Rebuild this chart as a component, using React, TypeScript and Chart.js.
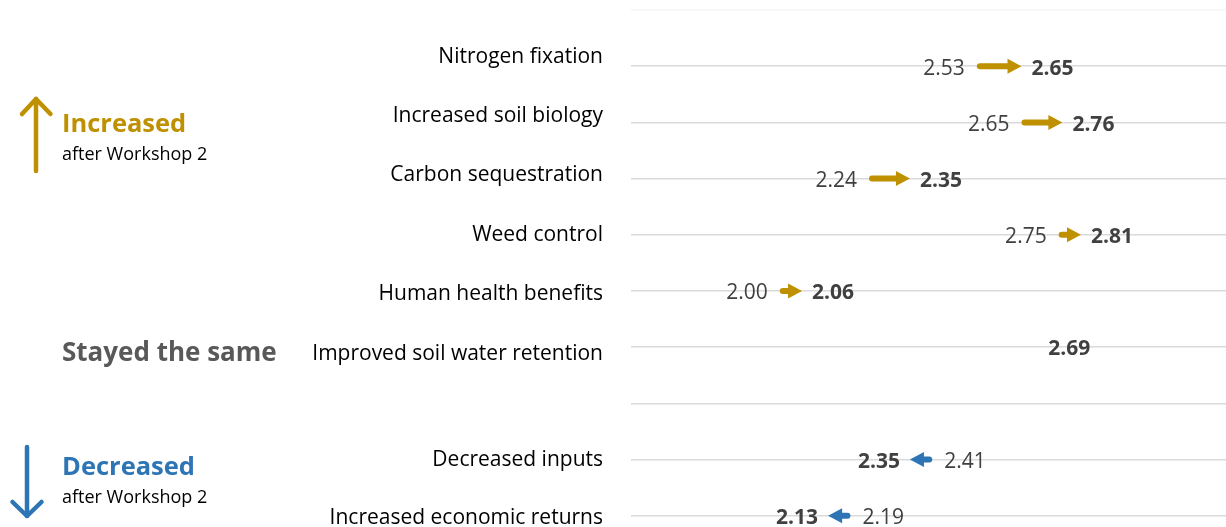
import { useEffect, useRef } from "react";
import { Chart, registerables } from "chart.js";

Chart.register(...registerables);

// ---- data ----
const ROW_LABELS = [
  "Nitrogen fixation",
  "Increased soil biology",
  "Carbon sequestration",
  "Weed control",
  "Human health benefits",
  "Improved soil water retention",
  "Decreased inputs",
  "Increased economic returns",
];
const WORKSHOP_1 = [2.53, 2.65, 2.24, 2.75, 2.0, 2.69, 2.41, 2.19];
const WORKSHOP_2 = [2.65, 2.76, 2.35, 2.81, 2.06, 2.69, 2.35, 2.13];
// gridline row on which each item sits (row 7 is an empty spacer row)
const ROW_SLOTS = [1, 2, 3, 4, 5, 6, 8, 9];
const GRID_ROWS = [0, 1, 2, 3, 4, 5, 6, 7, 8, 9];
// positions of the left-hand text labels on their own label axis
const LABEL_SLOTS = [0, 1, 2, 3, 4, 5, 6.79, 7.77];

const X_MIN = 1.6;
const X_MAX = 3.2;

// ---- styles ----
const FONT = "'Open Sans', sans-serif";
const GOLD = "#BF9000";
const BLUE = "#2E75B6";
const VALUE_COLOR = "#404040";
const SAME_COLOR = "#595959";

const fmt = (v: number) => v.toFixed(2);

function drawArrow(ctx: CanvasRenderingContext2D, x0: number, x1: number, y: number, color: string) {
  const dir = Math.sign(x1 - x0);
  const headLen = 14;
  const headHalf = 7.5;
  const base = x1 - dir * headLen;
  ctx.save();
  ctx.strokeStyle = color;
  ctx.fillStyle = color;
  ctx.lineWidth = 6;
  ctx.lineCap = "round";
  ctx.beginPath();
  ctx.moveTo(x0 + dir * 3, y);
  ctx.lineTo(base + dir * 1, y);
  ctx.stroke();
  ctx.beginPath();
  ctx.moveTo(x1, y);
  ctx.lineTo(base, y - headHalf);
  ctx.lineTo(base, y + headHalf);
  ctx.closePath();
  ctx.fill();
  ctx.restore();
}

const arrowPlugin = {
  id: "changeArrows",
  afterDatasetsDraw(chart: any) {
    const { ctx } = chart;
    const xs = chart.scales.x;
    const ys = chart.scales.y;
    ROW_SLOTS.forEach((row, i) => {
      const a = WORKSHOP_1[i];
      const b = WORKSHOP_2[i];
      const y = ys.getPixelForValue(row);
      const xa = xs.getPixelForValue(a);
      const xb = xs.getPixelForValue(b);
      ctx.save();
      ctx.textBaseline = "middle";
      if (a === b) {
        ctx.font = `bold 21px ${FONT}`;
        ctx.fillStyle = VALUE_COLOR;
        ctx.textAlign = "left";
        ctx.fillText(fmt(b), xb + 12, y + 2);
        ctx.restore();
        return;
      }
      const up = b > a;
      const dir = up ? 1 : -1;
      drawArrow(ctx, xa, xb, y, up ? GOLD : BLUE);
      ctx.fillStyle = VALUE_COLOR;
      ctx.font = `21px ${FONT}`;
      ctx.textAlign = up ? "right" : "left";
      ctx.fillText(fmt(a), xa - dir * 12, y + 2.5);
      ctx.font = `bold 21px ${FONT}`;
      ctx.textAlign = up ? "left" : "right";
      ctx.fillText(fmt(b), xb + dir * 10, y + 2.5);
      ctx.restore();
    });
  },
};

const sideNotesPlugin = {
  id: "sideNotes",
  afterDraw(chart: any) {
    const { ctx } = chart;
    ctx.save();
    ctx.textAlign = "left";
    ctx.textBaseline = "alphabetic";

    // Increased
    ctx.font = `bold 25.5px ${FONT}`;
    ctx.fillStyle = GOLD;
    ctx.fillText("Increased", 62, 132);
    ctx.font = `18px ${FONT}`;
    ctx.fillStyle = "#000";
    ctx.fillText("after Workshop 2", 62, 160);

    // Stayed the same
    ctx.font = `bold 26px ${FONT}`;
    ctx.fillStyle = SAME_COLOR;
    ctx.fillText("Stayed the same", 62, 361);

    // Decreased
    ctx.font = `bold 25.5px ${FONT}`;
    ctx.fillStyle = BLUE;
    ctx.fillText("Decreased", 62, 475);
    ctx.font = `18px ${FONT}`;
    ctx.fillStyle = "#000";
    ctx.fillText("after Workshop 2", 62, 503);

    // up arrow
    ctx.lineWidth = 4.5;
    ctx.lineCap = "round";
    ctx.lineJoin = "round";
    ctx.strokeStyle = GOLD;
    ctx.beginPath();
    ctx.moveTo(36, 171);
    ctx.lineTo(36, 99);
    ctx.stroke();
    ctx.beginPath();
    ctx.moveTo(22, 114);
    ctx.lineTo(36, 99);
    ctx.lineTo(50.5, 114);
    ctx.stroke();

    // down arrow
    ctx.strokeStyle = BLUE;
    ctx.beginPath();
    ctx.moveTo(27, 447);
    ctx.lineTo(27, 516);
    ctx.stroke();
    ctx.beginPath();
    ctx.moveTo(12.5, 502);
    ctx.lineTo(27, 516);
    ctx.lineTo(41.5, 502);
    ctx.stroke();
    ctx.restore();
  },
};

export default function App() {
  const canvasRef = useRef<HTMLCanvasElement | null>(null);

  useEffect(() => {
    const canvas = canvasRef.current;
    if (!canvas) return;
    const chart = new Chart(canvas, {
      type: "scatter",
      data: {
        datasets: [
          {
            label: "Workshop 2",
            data: ROW_SLOTS.map((r, i) => ({ x: WORKSHOP_2[i], y: r })),
            pointRadius: 0,
            pointHoverRadius: 0,
            showLine: false,
          },
        ],
      },
      options: {
        animation: false,
        responsive: true,
        maintainAspectRatio: false,
        devicePixelRatio: 1,
        layout: { autoPadding: false, padding: { top: 10, bottom: 0, left: 0, right: 0 } },
        plugins: {
          legend: { display: false },
          tooltip: { enabled: false },
          title: { display: false },
        },
        scales: {
          x: { type: "linear", display: false, min: X_MIN, max: X_MAX },
          y: {
            type: "linear",
            position: "left",
            weight: 0,
            min: 0,
            max: 9.2,
            reverse: true,
            border: { display: false },
            ticks: { display: false },
            grid: {
              drawTicks: false,
              lineWidth: 1.5,
              color: (c: any) => (c.index === 0 ? "#f5f5f5" : "#dadada"),
            },
            afterBuildTicks: (axis: any) => {
              axis.ticks = GRID_ROWS.map((v) => ({ value: v }));
            },
            afterFit: (axis: any) => {
              axis.width = 0;
              axis.paddingTop = 0;
              axis.paddingBottom = 0;
            },
          },
          yLabels: {
            type: "linear",
            axis: "y",
            position: "left",
            weight: 1,
            min: -0.785,
            max: 7.919,
            reverse: true,
            border: { display: false },
            grid: { display: false, drawTicks: false },
            ticks: {
              autoSkip: false,
              padding: 28,
              color: "#000",
              font: { family: FONT, size: 21 },
              callback: (_v: any, i: number) => ROW_LABELS[i],
            },
            afterBuildTicks: (axis: any) => {
              axis.ticks = LABEL_SLOTS.map((v) => ({ value: v }));
            },
            afterFit: (axis: any) => {
              axis.width = 631;
              axis.paddingTop = 0;
              axis.paddingBottom = 0;
            },
          },
        },
      } as any,
      plugins: [arrowPlugin, sideNotesPlugin],
    });
    return () => chart.destroy();
  }, []);

  return (
    <div style={{ position: "fixed", left: 0, top: 0, width: 1226, height: 527, background: "#fff" }}>
      <canvas ref={canvasRef} />
    </div>
  );
}
